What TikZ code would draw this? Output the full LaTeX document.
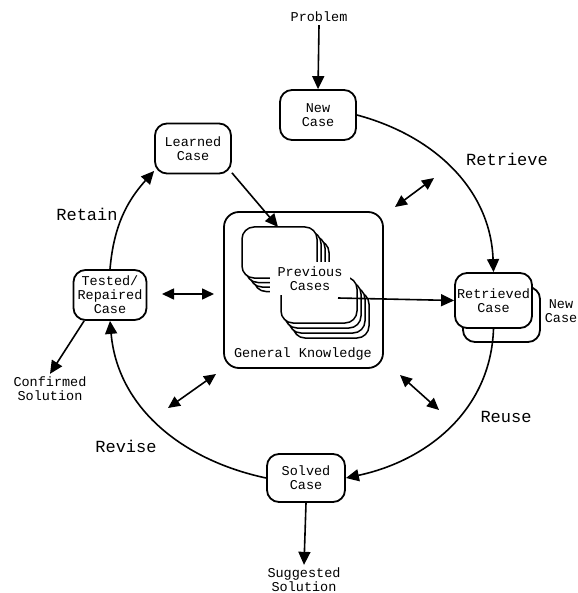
\documentclass[tikz,border=0pt]{standalone}
\usepackage{fontspec}
\setmonofont{Liberation Mono}
\usetikzlibrary{arrows.meta}
\newcommand\cbrboxfont{\ttfamily\fontsize{13.5}{14}\selectfont}
\newcommand\cbrlblfont{\ttfamily\fontsize{17}{19}\selectfont}
\begin{document}
\begin{tikzpicture}[x=1pt,y=1pt,
  box/.style={draw, line width=1.8pt, rounded corners=12pt, minimum width=76pt,
    minimum height=50pt, align=center, font=\cbrboxfont, fill=white, inner sep=2pt},
  plain/.style={align=center, font=\cbrboxfont, inner sep=3pt},
  lbl/.style={font=\cbrlblfont, inner sep=0pt},
  card/.style={draw, line width=1.5pt, rounded corners=12pt, fill=white},
  conn/.style={line width=1.6pt, -{Triangle[length=13pt,width=12pt]}},
  dbl/.style={line width=1.6pt, {Triangle[length=12pt,width=11pt]}-{Triangle[length=12pt,width=11pt]}}
]
\useasboundingbox[fill=white] (0,0) rectangle (577,-593);

% General knowledge box
\draw[line width=1.8pt, rounded corners=15pt] (224,-212) rectangle (383,-368);
\node[plain] (gk) at (303,-354) {General Knowledge};

% previous cases: upper-left stack
\foreach \i in {3,2,1,0}{
  \draw[card] ({242+4*\i},{-227-4.5*\i}) rectangle ({317+4*\i},{-278-4.5*\i});
}
% lower-right stack
\foreach \i in {3,2,1,0}{
  \draw[card] ({281+4*\i},{-277-5*\i}) rectangle ({357+4*\i},{-323-5*\i});
}
\fill[white] (270,-262) rectangle (350,-295);
\node[plain, inner sep=0pt] (prev) at (310,-279) {Previous\\Cases};
\coordinate (prevtop) at (278,-227);
\coordinate (prevout) at (338,-298);

% main nodes
\node[plain] (problem) at (319,-17) {Problem};
\node[box] (newcase) at (318,-115) {New\\Case};
\node[box] (learned) at (193,-148.5) {Learned\\Case};
\node[box, minimum width=73pt] (tested) at (110,-295) {Tested/\\Repaired\\Case};
\node[plain] (confirmed) at (50,-389) {Confirmed\\Solution};
\node[box, minimum width=78pt, minimum height=48pt] (solved) at (306,-478) {Solved\\Case};
\node[plain] (suggested) at (304,-580) {Suggested\\Solution};
\draw[line width=1.8pt, rounded corners=12pt, fill=white] (463,-287) rectangle (540,-342);
\node[box, minimum width=77pt, minimum height=55pt] (retrieved) at (493.5,-300.5) {Retrieved\\Case};
\node[plain, inner sep=0pt] (newcase2) at (561,-311) {New\\Case};

% cycle labels
\node[lbl] (lretrieve) at (507,-159) {Retrieve};
\node[lbl] (lreuse) at (506,-417) {Reuse};
\node[lbl] (lrevise) at (126,-446) {Revise};
\node[lbl] (lretain) at (87,-214) {Retain};

% connectors
\draw[conn] (problem.south) -- (newcase.north);
\draw[conn] (newcase.east) to[out=-15,in=92] (retrieved.north);
\draw[conn] (retrieved.south) to[out=-92,in=12] (solved.east);
\draw[conn] (solved.west) to[out=168,in=-85] (tested.south);
\draw[conn] (tested.north) to[out=85,in=-132] (learned.-150);
\draw[conn] (learned.-32) -- (prevtop);
\draw[conn] (prevout) -- (retrieved.west);
\draw[conn] (tested.-135) -- (confirmed.north);
\draw[conn] (solved.south) -- (suggested.north);

% double arrows
\coordinate (d1a) at (162,-294); \coordinate (d1b) at (214,-294);
\coordinate (d2a) at (395,-207); \coordinate (d2b) at (434,-178);
\coordinate (d3a) at (168,-408); \coordinate (d3b) at (216,-374);
\coordinate (d4a) at (400,-375); \coordinate (d4b) at (439,-410);
\draw[dbl] (d1a) -- (d1b);
\draw[dbl] (d2a) -- (d2b);
\draw[dbl] (d3a) -- (d3b);
\draw[dbl] (d4a) -- (d4b);
\end{tikzpicture}
\end{document}
